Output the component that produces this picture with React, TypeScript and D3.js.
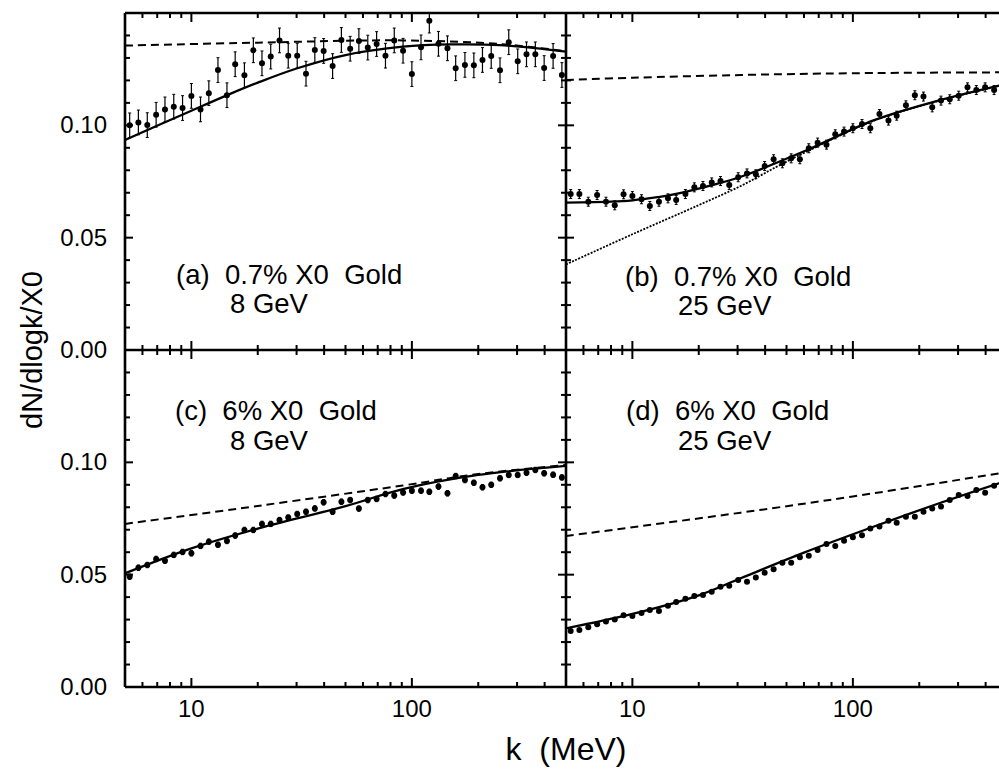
import React from 'react';
import * as d3 from 'd3';

// ---------- data ----------
const K_BINS = [5.25, 5.75, 6.31, 6.92, 7.59, 8.32, 9.12, 10.0, 11.0, 12.0, 13.2, 14.5, 15.8, 17.4, 19.1, 20.9, 22.9, 25.1, 27.5, 30.2, 33.1, 36.3, 39.8, 43.7, 47.9, 52.5, 57.5, 63.1, 69.2, 75.9, 83.2, 91.2, 100, 110, 120, 132, 145, 158, 174, 191, 209, 229, 251, 275, 302, 331, 363, 398, 437, 479];

const A_VALUES = [0.1000, 0.1013, 0.1001, 0.1047, 0.1071, 0.1083, 0.1077, 0.1131, 0.1071, 0.1143, 0.1246, 0.1134, 0.1272, 0.1223, 0.1334, 0.1276, 0.1306, 0.1378, 0.1310, 0.1310, 0.1230, 0.1335, 0.1331, 0.1264, 0.1380, 0.1341, 0.1375, 0.1346, 0.1362, 0.1310, 0.1378, 0.1332, 0.1228, 0.1347, 0.1466, 0.1363, 0.1343, 0.1254, 0.1269, 0.1267, 0.1291, 0.1309, 0.1245, 0.1370, 0.1285, 0.1316, 0.1316, 0.1255, 0.1309, 0.1224];
const B_VALUES = [0.0694, 0.0694, 0.0660, 0.0690, 0.0660, 0.0644, 0.0693, 0.0685, 0.0671, 0.0641, 0.0660, 0.0675, 0.0668, 0.0694, 0.0724, 0.0730, 0.0746, 0.0752, 0.0734, 0.0769, 0.0786, 0.0782, 0.0819, 0.0849, 0.0831, 0.0853, 0.0849, 0.0898, 0.0923, 0.0914, 0.0960, 0.0972, 0.0987, 0.1006, 0.0987, 0.1050, 0.1021, 0.1043, 0.1089, 0.1134, 0.1128, 0.1080, 0.1110, 0.1116, 0.1132, 0.1169, 0.1157, 0.1169, 0.1157];
const C_VALUES = [0.0491, 0.0531, 0.0543, 0.0570, 0.0562, 0.0588, 0.0601, 0.0595, 0.0628, 0.0647, 0.0633, 0.0650, 0.0674, 0.0699, 0.0699, 0.0726, 0.0726, 0.0743, 0.0754, 0.0770, 0.0780, 0.0795, 0.0822, 0.0780, 0.0825, 0.0832, 0.0794, 0.0832, 0.0837, 0.0859, 0.0852, 0.0866, 0.0874, 0.0874, 0.0869, 0.0892, 0.0862, 0.0939, 0.0921, 0.0909, 0.0889, 0.0900, 0.0929, 0.0944, 0.0944, 0.0954, 0.0966, 0.0951, 0.0945, 0.0933];
const D_VALUES = [0.0249, 0.0254, 0.0266, 0.0279, 0.0291, 0.0301, 0.0319, 0.0316, 0.0329, 0.0343, 0.0338, 0.0362, 0.0378, 0.0393, 0.0405, 0.0409, 0.0424, 0.0446, 0.0451, 0.0476, 0.0469, 0.0487, 0.0509, 0.0524, 0.0553, 0.0553, 0.0577, 0.0584, 0.0610, 0.0636, 0.0628, 0.0651, 0.0666, 0.0675, 0.0706, 0.0714, 0.0740, 0.0731, 0.0758, 0.0758, 0.0780, 0.0795, 0.0803, 0.0832, 0.0855, 0.0850, 0.0877, 0.0865, 0.0896];

const A_ERR = 0.0055;
const B_ERR = 0.002;
const C_ERR = 0.0012;
const D_ERR = 0.0006;

const A_FIT_K = [5, 10, 15, 20, 30, 50, 91, 150, 250, 500];
const A_FIT_V = [0.0935, 0.1065, 0.1140, 0.1190, 0.1253, 0.1313, 0.1350, 0.1360, 0.1357, 0.1328];
const A_DASH_K = [5, 20, 91, 250, 500];
const A_DASH_V = [0.1355, 0.1368, 0.1378, 0.1362, 0.1330];

const B_FIT_K = [5, 8, 10, 13, 15, 23, 31, 62, 124, 250, 500];
const B_FIT_V = [0.0656, 0.0660, 0.0666, 0.0680, 0.0690, 0.0734, 0.0771, 0.0890, 0.1022, 0.1113, 0.1185];
const B_DOT_K = [5, 10, 20, 31, 45, 62, 124, 250, 500];
const B_DOT_V = [0.0381, 0.0515, 0.0645, 0.0730, 0.0815, 0.0884, 0.1020, 0.1111, 0.1183];
const B_DASH_K = [5, 10, 31, 100, 500];
const B_DASH_V = [0.1202, 0.1212, 0.1224, 0.1232, 0.1236];

const C_FIT_K = [5, 10, 20, 50, 91, 200, 500];
const C_FIT_V = [0.0506, 0.0617, 0.0705, 0.0805, 0.0881, 0.0944, 0.0984];
const C_DASH_K = [5, 20, 91, 200, 500];
const C_DASH_V = [0.0726, 0.0806, 0.0897, 0.0948, 0.0988];

const D_FIT_K = [5, 10, 20, 31, 60, 123, 250, 460, 500];
const D_FIT_V = [0.0261, 0.0325, 0.0408, 0.0484, 0.0598, 0.0712, 0.0820, 0.0907, 0.0918];
const D_DASH_K = [5, 31, 100, 460, 500];
const D_DASH_V = [0.0672, 0.0776, 0.0848, 0.0951, 0.0957];

const X_DOMAIN = [5, 500];
const Y_DOMAIN = [0, 0.15];
const X_MAJOR = [10, 100];
const X_MINOR = [6, 7, 8, 9, 20, 30, 40, 50, 60, 70, 80, 90, 200, 300, 400];
const X_LABELS = ['10', '100'];
const Y_MAJOR = [0.05, 0.10];
const Y_MINOR = [0.01, 0.02, 0.03, 0.04, 0.06, 0.07, 0.08, 0.09, 0.11, 0.12, 0.13, 0.14];
const Y_LABELS = ['0.10', '0.05', '0.00'];
const Y_LABEL_VALUES = [0.10, 0.05, 0.00];

const PANEL_TEXT = [
  ['(a)  0.7% X0  Gold', '8 GeV'],
  ['(b)  0.7% X0  Gold', '25 GeV'],
  ['(c)  6% X0  Gold', '8 GeV'],
  ['(d)  6% X0  Gold', '25 GeV'],
];

// ---------- layout ----------
const W = 999, H = 769;
const X0 = 125, PW = 441;
const Y0 = 13, PH = 337;
const FONT = "'Liberation Sans', Arial, Helvetica, sans-serif";
const TEXT_POS = [
  { x1: 176, y1: 284, x2: 230, y2: 313 },
  { x1: 625, y1: 286, x2: 678, y2: 315 },
  { x1: 175, y1: 420, x2: 230, y2: 450 },
  { x1: 626, y1: 420, x2: 678, y2: 450 },
];

type Curve = { k: number[]; v: number[]; style: 'solid' | 'dash' | 'dot' };

export default function App() {
  const panels = [
    { col: 0, row: 0, vals: A_VALUES, err: A_ERR, curves: [
      { k: A_DASH_K, v: A_DASH_V, style: 'dash' },
      { k: A_FIT_K, v: A_FIT_V, style: 'solid' }] as Curve[] },
    { col: 1, row: 0, vals: B_VALUES, err: B_ERR, curves: [
      { k: B_DASH_K, v: B_DASH_V, style: 'dash' },
      { k: B_DOT_K, v: B_DOT_V, style: 'dot' },
      { k: B_FIT_K, v: B_FIT_V, style: 'solid' }] as Curve[] },
    { col: 0, row: 1, vals: C_VALUES, err: C_ERR, curves: [
      { k: C_DASH_K, v: C_DASH_V, style: 'dash' },
      { k: C_FIT_K, v: C_FIT_V, style: 'solid' }] as Curve[] },
    { col: 1, row: 1, vals: D_VALUES, err: D_ERR, curves: [
      { k: D_DASH_K, v: D_DASH_V, style: 'dash' },
      { k: D_FIT_K, v: D_FIT_V, style: 'solid' }] as Curve[] },
  ];

  return (
    <svg width={W} height={H} style={{ position: 'absolute', left: 0, top: 0, background: '#fff' }} fontFamily={FONT}>
      <defs>
        {panels.map((p, i) => (
          <clipPath id={`clip${i}`} key={i}>
            <rect x={X0 + p.col * PW} y={Y0 + p.row * PH} width={PW} height={PH} />
          </clipPath>
        ))}
      </defs>
      {panels.map((p, i) => {
        const xl = X0 + p.col * PW, xr = xl + PW;
        const yt = Y0 + p.row * PH, yb = yt + PH;
        const x = d3.scaleLog().domain(X_DOMAIN).range([xl, xr]);
        const y = d3.scaleLinear().domain(Y_DOMAIN).range([yb, yt]);
        const line = d3.line<[number, number]>().x(d => x(d[0])).y(d => y(d[1])).curve(d3.curveCatmullRom.alpha(0.5));
        const tickX = (vals: number[], len: number, key: string) => vals.map((t, j) => (
          <g key={key + j}>
            <line x1={x(t)} x2={x(t)} y1={yt} y2={yt + len} />
            <line x1={x(t)} x2={x(t)} y1={yb} y2={yb - len} />
          </g>));
        const tickY = (vals: number[], len: number, key: string) => vals.map((t, j) => (
          <g key={key + j}>
            <line x1={xl} x2={xl + len} y1={y(t)} y2={y(t)} />
            <line x1={xr} x2={xr - len} y1={y(t)} y2={y(t)} />
          </g>));
        const [t1, t2] = PANEL_TEXT[i];
        const tp = TEXT_POS[i];
        return (
          <g key={i}>
            <g stroke="#000" strokeWidth={2}>
              {tickX(X_MAJOR, 9, 'xM')}
              {tickX(X_MINOR, 5, 'xm')}
              {tickY(Y_MAJOR, 8, 'yM')}
              {tickY(Y_MINOR, 5, 'ym')}
            </g>
            <g clipPath={`url(#clip${i})`}>
              {p.curves.map((c, j) => (
                <path key={j} d={line(c.k.map((k, m) => [k, c.v[m]] as [number, number])) || ''}
                  fill="none" stroke="#000"
                  strokeWidth={c.style === 'solid' ? 2.3 : c.style === 'dash' ? 2 : 1.8}
                  strokeDasharray={c.style === 'dash' ? '8,5' : c.style === 'dot' ? '2,1.4' : undefined} />
              ))}
              {p.vals.map((v, j) => {
                const cx = x(K_BINS[j]);
                return (
                  <g key={j}>
                    <line x1={cx} x2={cx} y1={y(v - p.err)} y2={y(v + p.err)} stroke="#000" strokeWidth={1.2} />
                    <line x1={cx - 1.5} x2={cx + 1.5} y1={y(v - p.err)} y2={y(v - p.err)} stroke="#000" strokeWidth={1} />
                    <line x1={cx - 1.5} x2={cx + 1.5} y1={y(v + p.err)} y2={y(v + p.err)} stroke="#000" strokeWidth={1} />
                    <circle cx={cx} cy={y(v)} r={3} fill="#000" />
                  </g>
                );
              })}
            </g>
            <text x={tp.x1} y={tp.y1} fontSize={27.5} xmlSpace="preserve" style={{ whiteSpace: 'pre' }}>{t1}</text>
            <text x={tp.x2} y={tp.y2} fontSize={27.5} xmlSpace="preserve" style={{ whiteSpace: 'pre' }}>{t2}</text>
            {p.col === 0 && Y_LABEL_VALUES.map((v, j) => (
              <text key={'yl' + j} x={107} y={y(v) + 8} fontSize={24} textAnchor="end">{Y_LABELS[j]}</text>
            ))}
            {p.row === 1 && X_MAJOR.map((t, j) => (
              <text key={'xl' + j} x={x(t)} y={717} fontSize={24} textAnchor="middle">{X_LABELS[j]}</text>
            ))}
          </g>
        );
      })}
      <g stroke="#000" strokeWidth={2.6} fill="none">
        <line x1={X0} x2={X0 + 2 * PW} y1={Y0} y2={Y0} />
        <line x1={X0} x2={X0 + 2 * PW} y1={Y0 + PH} y2={Y0 + PH} />
        <line x1={X0} x2={X0 + 2 * PW} y1={Y0 + 2 * PH} y2={Y0 + 2 * PH} />
        <line x1={X0} x2={X0} y1={Y0} y2={Y0 + 2 * PH} />
        <line x1={X0 + PW} x2={X0 + PW} y1={Y0} y2={Y0 + 2 * PH} />
        <line x1={X0 + 2 * PW} x2={X0 + 2 * PW} y1={Y0} y2={Y0 + 2 * PH} />
      </g>
      <text transform="translate(42,350) rotate(-90)" fontSize={29} textAnchor="middle">dN/dlogk/X0</text>
      <text x={X0 + PW} y={760} fontSize={32} textAnchor="middle" xmlSpace="preserve" style={{ whiteSpace: 'pre' }}>k  (MeV)</text>
    </svg>
  );
}
